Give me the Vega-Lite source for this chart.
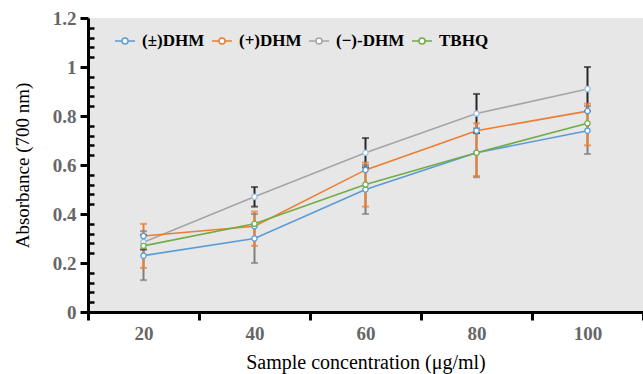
{
  "$schema": "https://vega.github.io/schema/vega-lite/v6.json",
  "width": 555,
  "height": 294,
  "autosize": {"type": "none"},
  "padding": {"left": 88, "top": 18, "right": 0, "bottom": 62},
  "background": "white",
  "config": {
    "view": {"stroke": null, "fill": "#e7e7e7"},
    "font": "Liberation Serif"
  },
  "data": {
    "values": [
      {"series": "(±)DHM", "conc": 20, "y": 0.23, "lo": 0.13, "hi": 0.33},
      {"series": "(±)DHM", "conc": 40, "y": 0.30, "lo": 0.20, "hi": 0.40},
      {"series": "(±)DHM", "conc": 60, "y": 0.50, "lo": 0.40, "hi": 0.60},
      {"series": "(±)DHM", "conc": 80, "y": 0.65, "lo": 0.55, "hi": 0.75},
      {"series": "(±)DHM", "conc": 100, "y": 0.74, "lo": 0.645, "hi": 0.84},
      {"series": "(−)-DHM", "conc": 20, "y": 0.285, "lo": 0.255, "hi": 0.315},
      {"series": "(−)-DHM", "conc": 40, "y": 0.47, "lo": 0.43, "hi": 0.51},
      {"series": "(−)-DHM", "conc": 60, "y": 0.65, "lo": 0.59, "hi": 0.71},
      {"series": "(−)-DHM", "conc": 80, "y": 0.81, "lo": 0.73, "hi": 0.89},
      {"series": "(−)-DHM", "conc": 100, "y": 0.91, "lo": 0.82, "hi": 1.0},
      {"series": "(+)DHM", "conc": 20, "y": 0.31, "lo": 0.18, "hi": 0.36},
      {"series": "(+)DHM", "conc": 40, "y": 0.35, "lo": 0.27, "hi": 0.41},
      {"series": "(+)DHM", "conc": 60, "y": 0.58, "lo": 0.43, "hi": 0.61},
      {"series": "(+)DHM", "conc": 80, "y": 0.74, "lo": 0.555, "hi": 0.77},
      {"series": "(+)DHM", "conc": 100, "y": 0.82, "lo": 0.68, "hi": 0.85},
      {"series": "TBHQ", "conc": 20, "y": 0.27},
      {"series": "TBHQ", "conc": 40, "y": 0.36},
      {"series": "TBHQ", "conc": 60, "y": 0.52},
      {"series": "TBHQ", "conc": 80, "y": 0.65},
      {"series": "TBHQ", "conc": 100, "y": 0.77}
    ]
  },
  "encoding": {
    "x": {
      "field": "conc",
      "type": "ordinal",
      "scale": {"paddingInner": 0, "paddingOuter": 0},
      "axis": {
        "title": "Sample concentration (μg/ml)",
        "titleFont": "Liberation Serif",
        "titleFontSize": 20,
        "titleFontWeight": "normal",
        "titleColor": "black",
        "titlePadding": 9,
        "labelAngle": 0,
        "labelFont": "Liberation Serif",
        "labelFontSize": 19,
        "labelFontWeight": "bold",
        "labelColor": "#666666",
        "labelPadding": 4,
        "tickBand": "extent",
        "tickSize": 8,
        "tickWidth": 3,
        "tickColor": "black",
        "domainColor": "black",
        "domainWidth": 3,
        "grid": false
      }
    }
  },
  "layer": [
    {
      "mark": {"type": "line", "strokeWidth": 1.6},
      "encoding": {
        "y": {
          "field": "y",
          "type": "quantitative",
          "scale": {"domain": [0, 1.2], "nice": false},
          "axis": {
            "title": "Absorbance (700 nm)",
            "titleFont": "Liberation Serif",
            "titleFontSize": 19,
            "titleFontWeight": "normal",
            "titleColor": "black",
            "titlePadding": 20,
            "tickCount": 40,
            "values": [0, 0.04, 0.08, 0.12, 0.16, 0.2, 0.24, 0.28, 0.32, 0.36, 0.4, 0.44, 0.48, 0.52, 0.56, 0.6, 0.64, 0.68, 0.72, 0.76, 0.8, 0.84, 0.88, 0.92, 0.96, 1, 1.04, 1.08, 1.12, 1.16, 1.2],
            "format": "~g",
            "labelOverlap": false,
            "labelExpr": "abs(datum.value*5 - round(datum.value*5)) < 0.001 ? datum.label : ''",
            "labelFont": "Liberation Serif",
            "labelFontSize": 19,
            "labelFontWeight": "bold",
            "labelColor": "#666666",
            "labelPadding": 4,
            "tickSize": {"condition": {"test": "abs(datum.value*5 - round(datum.value*5)) < 0.001", "value": 8}, "value": -6},
            "tickWidth": {"condition": {"test": "abs(datum.value*5 - round(datum.value*5)) < 0.001", "value": 3}, "value": 2.5},
            "tickColor": "black",
            "domainColor": "black",
            "domainWidth": 3,
            "grid": false
          }
        },
        "color": {
          "field": "series",
          "type": "nominal",
          "sort": ["(±)DHM", "(+)DHM", "(−)-DHM", "TBHQ"],
          "scale": {"domain": ["(±)DHM", "(+)DHM", "(−)-DHM", "TBHQ"], "range": ["#5b9bd5", "#ed7d31", "#a5a5a5", "#70ad47"]},
          "legend": {
            "title": null,
            "orient": "none",
            "direction": "horizontal",
            "legendX": 26,
            "legendY": 12,
            "labelFont": "Liberation Serif",
            "labelFontSize": 17,
            "labelFontWeight": "bold",
            "labelColor": "black",
            "labelOffset": 6,
            "columnPadding": 4,
            "symbolType": "M-1,0L-0.3,0M0.3,0L1,0M-0.3,0A0.3,0.3 0 1,1 0.3,0A0.3,0.3 0 1,1 -0.3,0",
            "symbolSize": 400,
            "symbolStrokeWidth": 1.5,
            "symbolFillColor": "white"
          }
        }
      }
    },
    {
      "transform": [{"filter": "isValid(datum.lo)"}],
      "encoding": {
        "color": {
          "field": "series",
          "type": "nominal",
          "scale": {"domain": ["(±)DHM", "(+)DHM", "(−)-DHM"], "range": ["#7f7f7f", "#ed7d31", "#262626"]},
          "legend": null
        }
      },
      "layer": [
        {
          "mark": {"type": "rule", "strokeWidth": 2},
          "encoding": {
            "y": {"field": "lo", "type": "quantitative"},
            "y2": {"field": "hi"}
          }
        },
        {
          "mark": {"type": "tick", "size": 7, "thickness": 2},
          "encoding": {"y": {"field": "lo", "type": "quantitative"}}
        },
        {
          "mark": {"type": "tick", "size": 7, "thickness": 2},
          "encoding": {"y": {"field": "hi", "type": "quantitative"}}
        }
      ]
    },
    {
      "mark": {"type": "point", "filled": false, "fill": "white", "fillOpacity": 1, "size": 28, "strokeWidth": 1.3, "opacity": 1},
      "encoding": {
        "y": {"field": "y", "type": "quantitative"},
        "color": {
          "field": "series",
          "type": "nominal",
          "scale": {"domain": ["(±)DHM", "(+)DHM", "(−)-DHM", "TBHQ"], "range": ["#5b9bd5", "#5b9bd5", "#9dc3e6", "#70ad47"]},
          "legend": null
        }
      }
    }
  ],
  "resolve": {"scale": {"color": "independent"}}
}
